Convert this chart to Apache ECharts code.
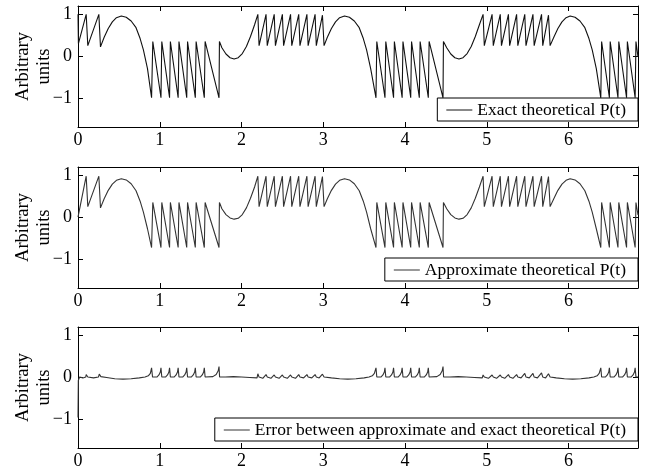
<!DOCTYPE html>
<html>
<head>
<meta charset="utf-8">
<script src="https://cdn.jsdelivr.net/npm/echarts@6/dist/echarts.min.js"></script>
<style>
html, body { margin: 0; padding: 0; background: #fff; }
#ech { width: 650px; height: 472px; }
</style>
</head>
<body>
<div id="ech"></div>
<script>
// tick values
var xTicks = [0, 1, 2, 3, 4, 5, 6];
var yTicks = [-1, 0, 1];
var legendNames = ['Exact theoretical P(t)', 'Approximate theoretical P(t)', 'Error between approximate and exact theoretical P(t)'];

// exact P(t)
var exactPts = [
	[0,1.0],[0.005,0.3],[0.1,1.0],[0.12,0.25],[0.255,1.0],[0.275,0.22],
	[0.32,0.45],[0.37,0.66],[0.42,0.82],[0.47,0.92],[0.53,0.96],[0.59,0.93],[0.65,0.84],[0.71,0.68],[0.76,0.42],[0.8,0.15],[0.85,-0.3],[0.9,-1.0],
	[0.915,0.35],[1.015,-1.0],[1.025,0.35],[1.12,-1.0],[1.13,0.35],[1.225,-1.0],[1.235,0.35],[1.33,-1.0],[1.34,0.35],[1.435,-1.0],[1.445,0.35],[1.545,-1.0],[1.555,0.35],[1.725,-1.0],[1.73,0.35],
	[1.76,0.2],[1.81,0.05],[1.86,-0.04],[1.91,-0.07],[1.96,-0.04],[2.01,0.06],[2.06,0.23],[2.11,0.47],[2.16,0.75],[2.2,1.0],
	[2.215,0.25],[2.3,1.0],[2.315,0.25],[2.4,1.0],[2.415,0.25],[2.5,1.0],[2.515,0.25],[2.6,1.0],[2.615,0.25],[2.7,1.0],[2.715,0.25],[2.8,1.0],[2.815,0.25],[2.9,1.0],[2.915,0.25],[2.99,0.98],[3.01,0.25],
	[3.05,0.45],[3.1,0.66],[3.15,0.82],[3.2,0.92],[3.26,0.96],[3.32,0.93],[3.38,0.84],[3.44,0.68],[3.49,0.42],[3.53,0.15],[3.58,-0.3],[3.645,-1.0],
	[3.655,0.35],[3.755,-1.0],[3.765,0.35],[3.86,-1.0],[3.87,0.35],[3.965,-1.0],[3.975,0.35],[4.07,-1.0],[4.08,0.35],[4.175,-1.0],[4.185,0.35],[4.285,-1.0],[4.295,0.35],[4.465,-1.0],[4.47,0.35],
	[4.51,0.2],[4.56,0.05],[4.61,-0.04],[4.66,-0.07],[4.71,-0.04],[4.76,0.06],[4.81,0.23],[4.86,0.47],[4.91,0.75],[4.955,1.0],
	[4.97,0.25],[5.065,1.0],[5.08,0.25],[5.165,1.0],[5.18,0.25],[5.265,1.0],[5.28,0.25],[5.365,1.0],[5.38,0.25],[5.465,1.0],[5.48,0.25],[5.565,1.0],[5.58,0.25],[5.67,1.0],[5.685,0.25],[5.755,0.98],[5.775,0.25],
	[5.82,0.45],[5.87,0.66],[5.92,0.82],[5.97,0.92],[6.02,0.96],[6.08,0.93],[6.14,0.84],[6.2,0.68],[6.25,0.42],[6.29,0.15],[6.34,-0.3],[6.395,-1.0],
	[6.405,0.35],[6.5,-1.0],[6.51,0.35],[6.605,-1.0],[6.615,0.35],[6.71,-1.0],[6.72,0.35],[6.815,-1.0],[6.825,0.35],[6.85,-0.02]
];

// approximate P(t), middle panel
var approxPts = [
	[0,0.0],[0.1,0.98],[0.12,0.25],[0.255,0.98],[0.275,0.22],
	[0.32,0.44],[0.37,0.64],[0.42,0.79],[0.47,0.88],[0.53,0.92],[0.59,0.89],[0.65,0.8],[0.71,0.63],[0.76,0.38],[0.8,0.12],[0.85,-0.28],[0.9,-0.73],
	[0.915,0.35],[1.015,-0.73],[1.025,0.35],[1.12,-0.73],[1.13,0.35],[1.225,-0.73],[1.235,0.35],[1.33,-0.73],[1.34,0.35],[1.435,-0.73],[1.445,0.35],[1.545,-0.73],[1.555,0.35],[1.725,-0.73],[1.73,0.35],
	[1.76,0.2],[1.81,0.06],[1.86,-0.02],[1.91,-0.05],[1.96,-0.03],[2.01,0.06],[2.06,0.22],[2.11,0.45],[2.16,0.72],[2.2,0.98],
	[2.215,0.25],[2.3,0.98],[2.315,0.25],[2.4,0.98],[2.415,0.25],[2.5,0.98],[2.515,0.25],[2.6,0.98],[2.615,0.25],[2.7,0.98],[2.715,0.25],[2.8,0.98],[2.815,0.25],[2.9,0.98],[2.915,0.25],[2.99,0.97],[3.01,0.25],
	[3.05,0.44],[3.1,0.64],[3.15,0.79],[3.2,0.88],[3.26,0.92],[3.32,0.89],[3.38,0.8],[3.44,0.63],[3.49,0.38],[3.53,0.12],[3.58,-0.28],[3.645,-0.73],
	[3.655,0.35],[3.755,-0.73],[3.765,0.35],[3.86,-0.73],[3.87,0.35],[3.965,-0.73],[3.975,0.35],[4.07,-0.73],[4.08,0.35],[4.175,-0.73],[4.185,0.35],[4.285,-0.73],[4.295,0.35],[4.465,-0.73],[4.47,0.35],
	[4.51,0.2],[4.56,0.06],[4.61,-0.02],[4.66,-0.05],[4.71,-0.03],[4.76,0.06],[4.81,0.22],[4.86,0.45],[4.91,0.72],[4.955,0.98],
	[4.97,0.25],[5.065,0.98],[5.08,0.25],[5.165,0.98],[5.18,0.25],[5.265,0.98],[5.28,0.25],[5.365,0.98],[5.38,0.25],[5.465,0.98],[5.48,0.25],[5.565,0.98],[5.58,0.25],[5.67,0.98],[5.685,0.25],[5.755,0.97],[5.775,0.25],
	[5.82,0.44],[5.87,0.64],[5.92,0.79],[5.97,0.88],[6.02,0.92],[6.08,0.89],[6.14,0.8],[6.2,0.63],[6.25,0.38],[6.29,0.12],[6.34,-0.28],[6.395,-0.73],
	[6.405,0.35],[6.5,-0.73],[6.51,0.35],[6.605,-0.73],[6.615,0.35],[6.71,-0.73],[6.72,0.35],[6.815,-0.73],[6.825,0.35],[6.85,0.05]
];

// error, bottom panel
var errorPts = [
	[0,-0.97],[0.004,-0.08],[0.02,0.0],[0.06,-0.02],[0.095,0.0],[0.1,0.06],[0.12,0.0],[0.19,-0.02],[0.25,0.0],[0.26,0.07],[0.28,0.01],
	[0.35,-0.01],[0.45,-0.04],[0.55,-0.05],[0.65,-0.04],[0.75,-0.02],[0.82,0.0],
	[0.86,0.03],[0.885,0.09],[0.9,0.22],[0.912,0.0],
	[0.965,0.0],[0.99,0.05],[1.007,0.12],[1.015,0.22],[1.025,0.0],
	[1.07,0.0],[1.095,0.05],[1.112,0.12],[1.12,0.22],[1.13,0.0],
	[1.175,0.0],[1.2,0.05],[1.217,0.12],[1.225,0.22],[1.235,0.0],
	[1.28,0.0],[1.305,0.05],[1.322,0.12],[1.33,0.22],[1.34,0.0],
	[1.385,0.0],[1.41,0.05],[1.427,0.12],[1.435,0.22],[1.445,0.0],
	[1.495,0.0],[1.52,0.05],[1.537,0.12],[1.545,0.22],[1.555,0.0],
	[1.65,0.01],[1.69,0.06],[1.715,0.15],[1.725,0.25],[1.732,0.0],
	[1.8,0.0],[1.9,0.01],[2.0,0.0],[2.1,-0.01],[2.19,-0.02],
	[2.2,0.08],[2.215,0.0],[2.26,-0.03],[2.3,0.06],[2.315,0.0],[2.36,-0.03],[2.4,0.05],[2.415,0.0],[2.46,-0.03],[2.5,0.05],[2.515,0.0],[2.56,-0.03],[2.6,0.05],[2.615,0.0],[2.66,-0.03],[2.7,0.06],[2.715,0.0],[2.76,-0.02],[2.8,0.06],[2.815,0.0],[2.86,-0.02],[2.9,0.06],[2.915,0.0],[2.95,-0.02],[2.99,0.07],[3.01,0.0],
	[3.1,-0.02],[3.2,-0.04],[3.3,-0.05],[3.4,-0.04],[3.5,-0.02],[3.56,0.0],
	[3.6,0.03],[3.625,0.09],[3.645,0.22],[3.655,0.0],
	[3.705,0.0],[3.73,0.05],[3.747,0.12],[3.755,0.22],[3.765,0.0],
	[3.81,0.0],[3.835,0.05],[3.852,0.12],[3.86,0.22],[3.87,0.0],
	[3.915,0.0],[3.94,0.05],[3.957,0.12],[3.965,0.22],[3.975,0.0],
	[4.02,0.0],[4.045,0.05],[4.062,0.12],[4.07,0.22],[4.08,0.0],
	[4.125,0.0],[4.15,0.05],[4.167,0.12],[4.175,0.22],[4.185,0.0],
	[4.235,0.0],[4.26,0.05],[4.277,0.12],[4.285,0.22],[4.295,0.0],
	[4.39,0.01],[4.43,0.06],[4.455,0.15],[4.465,0.25],[4.472,0.0],
	[4.55,0.0],[4.65,0.01],[4.75,0.0],[4.85,-0.01],[4.945,-0.02],
	[4.955,0.05],[4.97,0.0],[5.02,-0.03],[5.065,0.05],[5.08,0.0],[5.12,-0.03],[5.165,0.05],[5.18,0.0],[5.22,-0.03],[5.265,0.06],[5.28,0.0],[5.32,-0.03],[5.365,0.06],[5.38,0.0],[5.42,-0.02],[5.465,0.09],[5.48,0.0],[5.52,-0.02],[5.565,0.09],[5.58,0.0],[5.62,-0.02],[5.67,0.1],[5.685,0.0],[5.72,-0.02],[5.755,0.08],[5.775,0.0],
	[5.85,-0.02],[5.95,-0.04],[6.05,-0.05],[6.15,-0.04],[6.25,-0.02],[6.31,0.0],
	[6.35,0.03],[6.375,0.09],[6.395,0.22],[6.405,0.0],
	[6.45,0.0],[6.475,0.05],[6.492,0.12],[6.5,0.22],[6.51,0.0],
	[6.555,0.0],[6.58,0.05],[6.597,0.12],[6.605,0.22],[6.615,0.0],
	[6.66,0.0],[6.685,0.05],[6.702,0.12],[6.71,0.22],[6.72,0.0],
	[6.765,0.0],[6.79,0.05],[6.807,0.12],[6.815,0.22],[6.825,0.0],[6.85,0.0]
];

var FONT = 'Liberation Serif';
var gridTops = [6, 167, 327];
var legendTops = [98, 258, 418];
var lineColors = ['#111', '#333', '#333'];

function minusFmt(v) {
	return v < 0 ? '\u2212' + Math.abs(v) : String(v);
}

function makeX(i, pos) {
	return {
		type : 'value',
		gridIndex : i,
		position : pos,
		min : 0,
		max : 6.85,
		axisLine : { show : true, onZero : false, lineStyle : { color : '#000', width : 1 } },
		axisTick : { show : true, inside : true, length : 5, customValues : xTicks, lineStyle : { color : '#000' } },
		axisLabel : { show : pos === 'bottom', color : '#000', fontFamily : FONT, fontSize : 18, margin : 4,
			customValues : xTicks },
		splitLine : { show : false }
	};
}

function makeY(i, pos) {
	var ax = {
		type : 'value',
		gridIndex : i,
		position : pos,
		min : -1.7,
		max : 1.2,
		axisLine : { show : true, onZero : false, lineStyle : { color : '#000', width : 1 } },
		axisTick : { show : true, inside : true, length : 5, customValues : yTicks, lineStyle : { color : '#000' } },
		axisLabel : { show : pos === 'left', color : '#000', fontFamily : FONT, fontSize : 18, margin : 6,
			customValues : yTicks, formatter : minusFmt },
		splitLine : { show : false }
	};
	if (pos === 'left') {
		ax.name = 'Arbitrary\nunits';
		ax.nameLocation = 'middle';
		ax.nameRotate = 90;
		ax.nameGap = 23;
		ax.nameMoveOverlap = false;
		ax.nameTextStyle = { color : '#000', fontFamily : FONT, fontSize : 18.5, lineHeight : 21 };
	}
	return ax;
}

function show() {
	var chart = echarts.init(document.getElementById('ech'), null, { renderer : 'canvas' });
	var grids = [], xAxes = [], yAxes = [], legends = [], series = [];
	var sets = [exactPts, approxPts, errorPts];
	for (var i = 0; i < 3; i++) {
		grids.push({ left : 78, right : 12, top : gridTops[i], height : 121, containLabel : false, outerBoundsMode : 'none' });
		xAxes.push(makeX(i, 'bottom'));
		xAxes.push(makeX(i, 'top'));
		yAxes.push(makeY(i, 'left'));
		yAxes.push(makeY(i, 'right'));
		legends.push({
			data : [{ name : legendNames[i], icon : 'rect' }],
			right : 12,
			top : legendTops[i],
			backgroundColor : '#fff',
			borderColor : '#000',
			borderWidth : 1,
			borderRadius : 0,
			padding : [2, 12, 1, 9],
			itemWidth : 26,
			itemHeight : 1,
			itemGap : 0,
			selectedMode : false,
			textStyle : { color : '#000', fontFamily : FONT, fontSize : 17.5, lineHeight : 20 }
		});
		series.push({
			name : legendNames[i],
			type : 'line',
			xAxisIndex : i * 2,
			yAxisIndex : i * 2,
			data : sets[i],
			symbol : 'none',
			color : lineColors[i],
			lineStyle : { width : 1.1, color : lineColors[i] }
		});
	}
	chart.setOption({
		animation : false,
		backgroundColor : '#fff',
		grid : grids,
		xAxis : xAxes,
		yAxis : yAxes,
		legend : legends,
		series : series
	});
}
show();
</script>
</body>
</html>
